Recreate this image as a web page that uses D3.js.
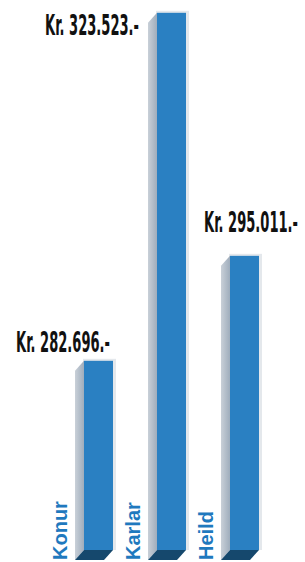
<!DOCTYPE html>
<html>
<head>
<meta charset="utf-8">
<script src="https://cdn.jsdelivr.net/npm/d3@7"></script>
<style>
  html, body { margin: 0; padding: 0; background: #fff; }
  svg { display: block; }
</style>
</head>
<body>
<svg id="chart" width="305" height="562"></svg>
<script>
// data
let categories = ["Konur", "Karlar", "Heild"];
let values = [282696, 323523, 295011];
let valueLabels = ["Kr. 282.696.-", "Kr. 323.523.-", "Kr. 295.011.-"];

// where each value label sits relative to its bar (end anchor)
let labelDx = [26, -18, 68];
let labelDy = [-9, 22, -24];

const width = 305;
const height = 562;
const baseY = 550;
const depthX = -9;
const depthY = 10;

let svg = d3.select("#chart");

let x = d3
  .scaleBand()
  .domain(categories)
  .range([84, 259])
  .paddingInner(44 / 73)
  .paddingOuter(0);

let y = d3.scaleLinear().domain([260500, 323500]).range([baseY, 13]);

let defs = svg.append("defs");
let sideGrad = defs
  .append("linearGradient")
  .attr("id", "sideGrad")
  .attr("x1", "0")
  .attr("x2", "1")
  .attr("y1", "0")
  .attr("y2", "0");
sideGrad.append("stop").attr("offset", "0").attr("stop-color", "#c9d0d8");
sideGrad.append("stop").attr("offset", "1").attr("stop-color", "#9fadbc");

let bw = x.bandwidth();

let bars = svg
  .selectAll("g.bar")
  .data(categories)
  .join("g")
  .attr("class", "bar");

// soft light edge behind the front face
bars
  .append("rect")
  .attr("x", (d) => x(d) - 1)
  .attr("y", (d, i) => y(values[i]) - 2)
  .attr("width", bw + 4)
  .attr("height", (d, i) => baseY - y(values[i]) + 2)
  .attr("fill", "#e4e8ec");

// left side face
bars
  .append("path")
  .attr("d", function (d, i) {
    let x0 = x(d);
    let top = y(values[i]);
    return `M ${x0} ${top} L ${x0 + depthX} ${top + depthY} L ${x0 + depthX} ${baseY + depthY} L ${x0} ${baseY} Z`;
  })
  .attr("fill", "url(#sideGrad)");

// bottom face
bars
  .append("path")
  .attr("d", function (d) {
    let x0 = x(d);
    return `M ${x0} ${baseY} L ${x0 + bw} ${baseY} L ${x0 + bw + depthX} ${baseY + depthY} L ${x0 + depthX} ${baseY + depthY} Z`;
  })
  .attr("fill", "#15486d");

// front face
bars
  .append("rect")
  .attr("x", (d) => x(d))
  .attr("y", (d, i) => y(values[i]))
  .attr("width", bw)
  .attr("height", (d, i) => baseY - y(values[i]))
  .attr("fill", "#2a80c2");

// category labels, rotated
bars
  .append("text")
  .attr("transform", (d) => `translate(${x(d) - 17},${baseY + 10}) rotate(-90)`)
  .attr("font-family", "'Liberation Sans', Arial, sans-serif")
  .attr("font-weight", "bold")
  .attr("font-size", 20)
  .attr("fill", "#1f79be")
  .text((d) => d);

// value labels, squeezed horizontally to the narrow look of the original
let labelGroups = bars.append("g");
let valueText = labelGroups
  .append("text")
  .attr("text-anchor", "end")
  .attr("font-family", "'Liberation Sans Narrow', 'DejaVu Sans Condensed', 'Liberation Sans', sans-serif")
  .attr("font-weight", "bold")
  .attr("font-size", 28)
  .attr("fill", "#111")
  .text((d, i) => valueLabels[i]);

let squeeze = 94 / valueText.nodes()[0].getComputedTextLength();
labelGroups.attr(
  "transform",
  (d, i) => `translate(${x(d) + labelDx[i]},${y(values[i]) + labelDy[i]}) scale(${squeeze},1)`
);
</script>
</body>
</html>
